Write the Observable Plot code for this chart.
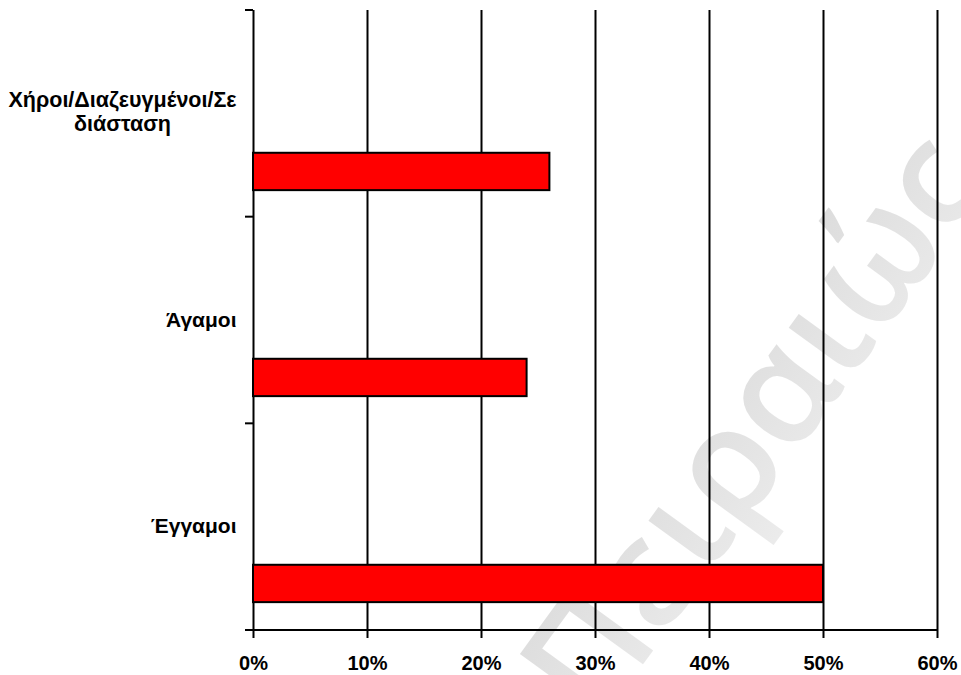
<!DOCTYPE html>
<html>
<head>
<meta charset="utf-8">
<script src="https://cdn.jsdelivr.net/npm/d3@7"></script>
<script src="https://cdn.jsdelivr.net/npm/@observablehq/plot@0.6"></script>
<style>
  html, body { margin: 0; padding: 0; background: #fff; }
  #chart svg { display: block; }
</style>
</head>
<body>
<div id="chart"></div>
<script>
// Marital status categories, top to bottom, and their shares
const categories = ["Χήροι/Διαζευγμένοι/Σε διάσταση", "Άγαμοι", "Έγγαμοι"];
const tickLabels = ["Χήροι/Διαζευγμένοι/Σε\nδιάσταση", "Άγαμοι", "Έγγαμοι"];
const shares = [0.26, 0.24, 0.50];
const xTicks = [0, 0.1, 0.2, 0.3, 0.4, 0.5, 0.6];
const watermark = "Πειραιώς";

const rows = categories.map((c, i) => ({category: c, label: tickLabels[i], value: shares[i]}));
const wrapped = rows.filter(d => d.label.includes("\n"));
const single = rows.filter(d => !d.label.includes("\n"));

const font = "'Liberation Sans', Arial, sans-serif";

// The bar occupies the last of four slots of each category band
const slotTop = 0.686, slotBottom = 0.13;

// Diagonal watermark behind the plot area
function background(index, scales, values, dim) {
  const g = d3.create("svg:g");
  const defs = g.append("defs");
  const grad = defs.append("linearGradient").attr("id", "wm-grad")
    .attr("x1", "0").attr("y1", "0").attr("x2", "0").attr("y2", "1");
  grad.append("stop").attr("offset", "0").attr("stop-color", "#d9d9d9");
  grad.append("stop").attr("offset", "1").attr("stop-color", "#ececec");
  g.append("text")
    .attr("transform", "translate(795,455) rotate(-54)")
    .attr("text-anchor", "middle")
    .attr("font-family", "'Open Sans', sans-serif")
    .attr("font-weight", 600)
    .attr("font-size", 148)
    .attr("fill", "url(#wm-grad)")
    .text(watermark);
  return g.node();
}

// Axis baseline and category boundary ticks
function frameTicks(index, scales, values, dim) {
  const {marginLeft, marginTop, marginBottom, height} = dim;
  const bottom = height - marginBottom;
  const band = (bottom - marginTop) / categories.length;
  const g = d3.create("svg:g").attr("stroke", "black").attr("stroke-width", 2);
  g.append("line")
    .attr("x1", marginLeft - 8).attr("x2", scales.x(0.6))
    .attr("y1", bottom).attr("y2", bottom);
  d3.range(categories.length + 1).forEach(i => {
    const y = marginTop + i * band;
    g.append("line").attr("x1", marginLeft - 8).attr("x2", marginLeft).attr("y1", y).attr("y2", y);
  });
  return g.node();
}

const chart = Plot.plot({
  width: 961,
  height: 675,
  marginLeft: 253,
  marginRight: 24,
  marginTop: 10,
  marginBottom: 45,
  style: {fontFamily: font, color: "black", background: "white"},
  x: {domain: [0, 0.6], axis: null},
  y: {domain: categories, padding: 0, axis: null},
  marks: [
    background,
    Plot.ruleX(xTicks, {stroke: "black", strokeWidth: 2}),
    Plot.barX(rows, {
      x: "value", y: "category",
      fill: "#ff0000", stroke: "black", strokeWidth: 2,
      insetTop: 206.67 * slotTop, insetBottom: 206.67 * slotBottom
    }),
    frameTicks,
    Plot.axisX({
      ticks: xTicks, tickFormat: d3.format(".0%"), label: null,
      tickSize: 8, tickPadding: 17, strokeWidth: 2,
      fontSize: 20, fontWeight: "bold", fill: "black"
    }),
    Plot.text(single, {
      y: "category", text: "label", frameAnchor: "left", dx: -17,
      textAnchor: "end", fontSize: 21, fontWeight: "bold", fill: "black"
    }),
    Plot.text(wrapped, {
      y: "category", text: "label", frameAnchor: "left", dx: -131, dy: -3,
      textAnchor: "middle", lineHeight: 1.08, fontSize: 21.5, fontWeight: "bold", fill: "black"
    })
  ]
});

document.getElementById("chart").appendChild(chart);
</script>
</body>
</html>
